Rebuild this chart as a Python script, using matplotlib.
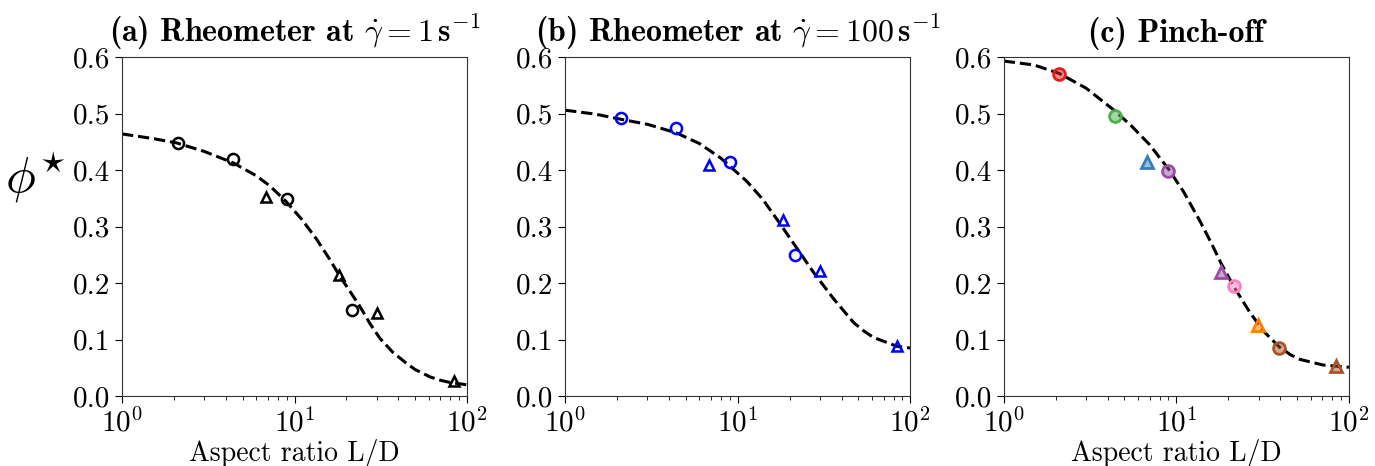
import numpy as np
import matplotlib
matplotlib.use("Agg")
import matplotlib.pyplot as plt
from matplotlib.colors import to_rgba

plt.rcParams['font.family'] = 'serif'
plt.rcParams['font.serif'] = ['cmr10']
plt.rcParams['mathtext.fontset'] = 'cm'
plt.rcParams['axes.formatter.use_mathtext'] = True
plt.rcParams['axes.unicode_minus'] = False

# aspect ratios of the fibre samples
ar_circ = [2.1, 4.4, 9.0, 21.5]
ar_tri = [6.8, 18.2, 30.0, 84.0]

# (a) rheometer at 1/s
phi_a_circ = [0.448, 0.420, 0.349, 0.153]
phi_a_tri = [0.352, 0.214, 0.147, 0.027]
fit_a_x = [1, 1.5, 2.08, 3, 4.4, 6, 7.2, 8.9, 11, 13.4, 16, 18.4, 21, 24,
           27.4, 31.3, 37, 43.7, 50, 61, 70, 80, 100]
fit_a_y = [0.464, 0.456, 0.448, 0.433, 0.413, 0.390, 0.372, 0.345, 0.313,
           0.278, 0.242, 0.211, 0.185, 0.158, 0.128, 0.102, 0.078, 0.060,
           0.047, 0.034, 0.028, 0.024, 0.020]

# (b) rheometer at 100/s
phi_b_circ = [0.492, 0.475, 0.414, 0.250]
phi_b_tri = [0.409, 0.312, 0.221, 0.089]
fit_b_x = [1, 1.5, 2.1, 3, 4.4, 6, 8, 11.3, 14, 17.6, 22, 27.5, 36, 47, 54,
           61, 84, 100]
fit_b_y = [0.506, 0.499, 0.490, 0.481, 0.466, 0.447, 0.421, 0.380, 0.348,
           0.305, 0.262, 0.219, 0.172, 0.130, 0.115, 0.104, 0.088, 0.085]

# (c) pinch-off, one colour per sample
pinch_x = [2.1, 4.4, 6.8, 9.0, 18.1, 21.6, 29.8, 39.5, 84.0]
pinch_phi = [0.570, 0.496, 0.415, 0.398, 0.219, 0.195, 0.126, 0.086, 0.054]
pinch_marker = ['o', 'o', '^', 'o', '^', 'o', '^', 'o', '^']
pinch_color = ['#e41a1c', '#4daf4a', '#377eb8', '#984ea3', '#984ea3',
               '#f781bf', '#ff7f00', '#a65628', '#a65628']
fit_c_x = [1, 1.5, 2.1, 3, 4.4, 5.5, 7, 9, 11, 13.7, 16, 18.1, 21.6, 26.7,
           32, 39.5, 46, 52, 71, 100]
fit_c_y = [0.593, 0.586, 0.571, 0.545, 0.505, 0.478, 0.445, 0.402, 0.362,
           0.310, 0.270, 0.236, 0.193, 0.148, 0.115, 0.087, 0.073, 0.065,
           0.055, 0.051]

titles = [r'(a) Rheometer at $\dot{\gamma}=\mathbf{1\,s}^{\mathbf{-1}}$',
          r'(b) Rheometer at $\dot{\gamma}=\mathbf{100\,s}^{\mathbf{-1}}$',
          r'(c) Pinch-off']

fig = plt.figure(figsize=(13.75, 4.66), dpi=100)
lefts = [0.0887, 0.411, 0.730]
axes = [fig.add_axes([l, 0.150, 0.251, 0.7275]) for l in lefts]

ax = axes[0]
ax.plot(fit_a_x, fit_a_y, 'k--', lw=2.2)
ax.plot(ar_circ, phi_a_circ, 'o', mfc='none', mec='k', ms=8, mew=1.8)
ax.plot(ar_tri, phi_a_tri, '^', mfc='none', mec='k', ms=7.5, mew=1.8)

ax = axes[1]
ax.plot(fit_b_x, fit_b_y, 'k--', lw=2.2)
ax.plot(ar_circ, phi_b_circ, 'o', mfc='none', mec='b', ms=8, mew=1.8)
ax.plot(ar_tri, phi_b_tri, '^', mfc='none', mec='b', ms=7.5, mew=1.8)

ax = axes[2]
ax.plot(fit_c_x, fit_c_y, 'k--', lw=2.2, zorder=2)
for x, y, m, c in zip(pinch_x, pinch_phi, pinch_marker, pinch_color):
    ax.plot(x, y, m, mfc=to_rgba(c, 0.5), mec=c, ms=8.5 if m == 'o' else 8,
            mew=2, zorder=3)

for ax, t in zip(axes, titles):
    ax.set_xscale('log')
    ax.set_xlim(1, 100)
    ax.set_ylim(0, 0.6)
    ax.set_yticks(np.arange(0, 0.61, 0.1))
    ax.set_yticklabels(['%.1f' % v for v in np.arange(0, 0.61, 0.1)])
    ax.tick_params(labelsize=21, length=5)
    ax.tick_params(which='minor', length=3)
    for s in ax.spines.values():
        s.set_color('0.2')
    ax.set_title(t, fontsize=23, fontfamily='cmb10', pad=11)
    ax.set_xlabel('Aspect ratio L/D', fontsize=20, labelpad=1)

axes[1].set_xlabel('')
axes[0].set_ylabel(r'$\phi^{\star}$', fontsize=36, rotation=0,
                   ha='center', va='center')
axes[0].yaxis.set_label_coords(-0.252, 0.645)

fig.savefig('out.png', dpi=100)
